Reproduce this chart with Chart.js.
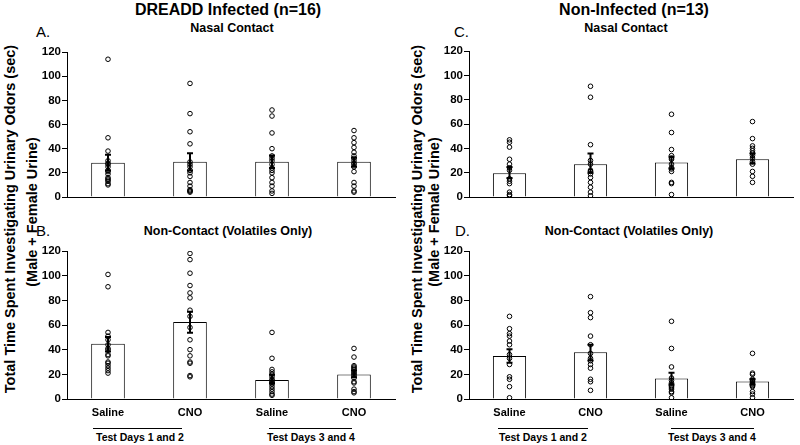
<!DOCTYPE html>
<html>
<head>
<meta charset="utf-8">
<script src="https://cdn.jsdelivr.net/npm/chart.js@4/dist/chart.umd.min.js"></script>
<style>
  body { margin: 0; background: #fff; }
  #fig { position: relative; width: 800px; height: 445px; overflow: hidden; background: #fff;
         font-family: "Liberation Sans", Arial, sans-serif; color: #000; }
  .box { position: absolute; }
  .t { position: absolute; white-space: nowrap; transform: translate(-50%, -50%); font-weight: bold; line-height: 1; }
  .big { font-size: 16px; }
  .sub { font-size: 12.5px; }
  .grp { font-size: 10.5px; }
  .letter { position: absolute; white-space: nowrap; transform: translate(0, -50%); font-size: 15px; line-height: 1; }
  .ytitle { position: absolute; white-space: nowrap; font-weight: bold; font-size: 14.5px; line-height: 1;
            transform: translate(-50%, -50%) rotate(-90deg); }
  .line { position: absolute; height: 0; border-top: 1px solid #000; }
</style>
</head>
<body>
<div id="fig">
  <div class="t big" style="left:228px;top:10px">DREADD Infected (n=16)</div>
  <div class="t big" style="left:634px;top:10px">Non-Infected (n=13)</div>

  <div class="letter" style="left:36px;top:31px">A.</div>
  <div class="letter" style="left:454px;top:31px">C.</div>
  <div class="letter" style="left:36px;top:230px">B.</div>
  <div class="letter" style="left:455px;top:230px">D.</div>

  <div class="t sub" style="left:232px;top:28px">Nasal Contact</div>
  <div class="t sub" style="left:626px;top:28px">Nasal Contact</div>
  <div class="t sub" style="left:228px;top:231px">Non-Contact (Volatiles Only)</div>
  <div class="t sub" style="left:629px;top:231px">Non-Contact (Volatiles Only)</div>

  <div class="ytitle" style="left:10px;top:219px">Total Time Spent Investigating Urinary Odors (sec)</div>
  <div class="ytitle" style="left:32px;top:212px">(Male + Female Urine)</div>
  <div class="ytitle" style="left:417px;top:219px">Total Time Spent Investigating Urinary Odors (sec)</div>
  <div class="ytitle" style="left:434px;top:212px">(Male + Female Urine)</div>

  <div class="box" style="left:35px;top:44px"><canvas id="chartA" width="365" height="161"></canvas></div>
  <div class="box" style="left:35px;top:243px"><canvas id="chartB" width="365" height="182"></canvas></div>
  <div class="box" style="left:437px;top:43px"><canvas id="chartC" width="361" height="162"></canvas></div>
  <div class="box" style="left:437px;top:243px"><canvas id="chartD" width="361" height="182"></canvas></div>

  <div class="line" style="left:93px;top:428px;width:89px"></div>
  <div class="line" style="left:269px;top:428px;width:83px"></div>
  <div class="line" style="left:498px;top:428px;width:90px"></div>
  <div class="line" style="left:671px;top:428px;width:83px"></div>
  <div class="t grp" style="left:140px;top:437px">Test Days 1 and 2</div>
  <div class="t grp" style="left:311px;top:437px">Test Days 3 and 4</div>
  <div class="t grp" style="left:543px;top:437px">Test Days 1 and 2</div>
  <div class="t grp" style="left:712px;top:437px">Test Days 3 and 4</div>
</div>

<script>
const doses = ["Saline", "CNO", "Saline", "CNO"];
const yTicks = [0, 20, 40, 60, 80, 100, 120];

// A. DREADD infected, nasal contact
const meanA = [28.3, 29.1, 29.1, 29.1];
const hiA = [35, 36.3, 34.3, 32.4];
const loA = [22, 22, 24, 25];
const ptsA = [
  [114, 49, 38, 30, 28, 27, 25, 22, 21, 19, 16, 15, 14, 13, 11, 10],
  [94, 69, 54, 44, 29, 27, 25, 22, 20, 17, 12, 9, 6, 5, 5, 4],
  [72, 67, 53, 40, 34, 32, 30, 27, 24, 22, 20, 16, 12, 9, 5, 3],
  [55, 49, 45, 41, 37, 34, 32, 30, 28, 27, 25, 21, 12, 9, 5, 4]
];

// B. DREADD infected, non-contact
const meanB = [44.8, 62.5, 15.5, 19.8];
const hiB = [50.3, 70.7, 19.6, 23.1];
const loB = [38.6, 53.8, 12.8, 17.7];
const ptsB = [
  [101, 91, 54, 51, 48, 44, 41, 40, 36, 35, 30, 29, 27, 25, 23, 21],
  [118, 113, 102, 92, 86, 82, 72, 67, 58, 48, 40, 35, 30, 29, 19, 18],
  [54, 33, 24, 22, 20, 18, 16, 15, 14, 13, 12, 10, 8, 6, 4, 3],
  [41, 34, 27, 26, 25, 24, 22, 21, 20, 19, 17, 14, 13, 8, 6, 5]
];

// C. non-infected, nasal contact
const meanC = [19.5, 26.9, 28.3, 31];
const hiC = [24.7, 35.7, 33, 35.7];
const loC = [15.7, 20, 23.4, 27.5];
const ptsC = [
  [47, 45, 41, 31, 27, 24, 22, 15, 13, 11, 4, 2, 1],
  [91, 82, 43, 30, 27, 22, 21, 19, 16, 12, 8, 4, 1],
  [68, 53, 39, 34, 32, 31, 27, 24, 23, 21, 12, 11, 2],
  [62, 48, 42, 40, 38, 36, 34, 32, 29, 27, 21, 17, 12]
];

// D. non-infected, non-contact
const meanD = [34.9, 37.9, 16.6, 14.2];
const hiD = [40.3, 43.9, 21.3, 16.3];
const loD = [29.4, 31.3, 11.7, 11.7];
const ptsD = [
  [67, 57, 53, 51, 47, 44, 36, 33, 28, 18, 16, 10, 1],
  [83, 70, 66, 51, 44, 37, 33, 31, 28, 25, 16, 14, 7],
  [63, 41, 26, 17, 15, 13, 11, 10, 9, 8, 6, 5, 1],
  [37, 21, 20, 16, 15, 14, 13, 12, 11, 10, 6, 4, 1]
];

const FONT = "'Liberation Sans', Arial, sans-serif";

// SEM error bars, drawn on top of the points
const errorBars = {
  id: "errorBars",
  afterDatasetsDraw(chart, args, opts) {
    const { ctx, scales: { x, y } } = chart;
    ctx.save();
    ctx.strokeStyle = "#000";
    ctx.lineWidth = 2;
    opts.lo.forEach((lo, i) => {
      const px = x.getPixelForValue(i);
      const y0 = y.getPixelForValue(lo);
      const y1 = y.getPixelForValue(opts.hi[i]);
      ctx.beginPath();
      ctx.moveTo(px, y0); ctx.lineTo(px, y1);
      ctx.moveTo(px - 3, y0); ctx.lineTo(px + 3, y0);
      ctx.moveTo(px - 3, y1); ctx.lineTo(px + 3, y1);
      ctx.stroke();
    });
    ctx.restore();
  }
};

function makePanel(id, means, lo, hi, pts, showLabels) {
  new Chart(document.getElementById(id), {
    type: "bar",
    data: {
      labels: doses,
      datasets: [
        {
          data: means,
          backgroundColor: "#fff",
          borderColor: "#000",
          borderWidth: 1,
          grouped: false,
          categoryPercentage: 1,
          barPercentage: 0.41,
          order: 2
        },
        {
          type: "scatter",
          xAxisID: "xs",
          data: pts.flatMap((g, i) => g.map(v => ({ x: i, y: v }))),
          pointRadius: 2.3,
          pointBorderWidth: 1,
          pointBorderColor: "#000",
          pointBackgroundColor: "rgba(255,255,255,0)",
          order: 1
        }
      ]
    },
    options: {
      responsive: false,
      animation: false,
      layout: { padding: { top: 8, right: 0, left: 0, bottom: 0 } },
      plugins: {
        legend: { display: false },
        tooltip: { enabled: false },
        errorBars: { lo: lo, hi: hi }
      },
      scales: {
        x: {
          grid: { display: false, drawTicks: false },
          border: { display: true, color: "#000", width: 1 },
          ticks: {
            display: showLabels,
            padding: 7,
            color: "#000",
            font: { family: FONT, size: 11, weight: "bold" }
          },
          afterFit: s => { s.height = showLabels ? 26 : 8; }
        },
        xs: { type: "linear", display: false, offset: false, min: -0.5, max: 3.5 },
        y: {
          min: 0,
          max: 120,
          afterBuildTicks: s => { s.ticks = yTicks.map(v => ({ value: v })); },
          grid: { drawOnChartArea: false, drawTicks: true, tickLength: 5, color: "#000", lineWidth: 1 },
          border: { display: true, color: "#000", width: 1 },
          ticks: {
            padding: 1,
            color: "#000",
            font: { family: FONT, size: 11.5, weight: "bold" }
          },
          afterFit: s => { s.width = 32; }
        }
      }
    },
    plugins: [errorBars]
  });
}

makePanel("chartA", meanA, loA, hiA, ptsA, false);
makePanel("chartB", meanB, loB, hiB, ptsB, true);
makePanel("chartC", meanC, loC, hiC, ptsC, false);
makePanel("chartD", meanD, loD, hiD, ptsD, true);
</script>
</body>
</html>
